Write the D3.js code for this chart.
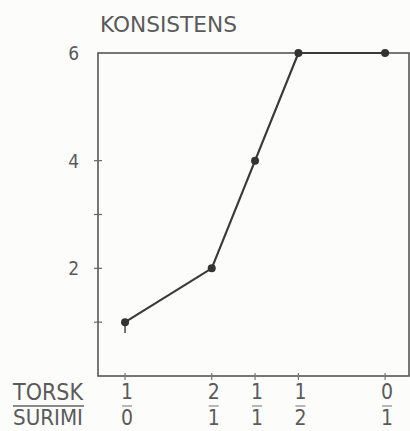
<!DOCTYPE html>
<html>
<head>
<meta charset="utf-8">
<script src="https://cdn.jsdelivr.net/npm/d3@7"></script>
<style>
  body { margin: 0; background: #fcfcfb; }
  svg text {
    font-family: "DejaVu Sans Condensed", "DejaVu Sans", sans-serif;
    font-stretch: condensed;
    fill: #5a5a5a;
  }
</style>
</head>
<body>
<div id="chart"></div>
<script>
// surimi share of the mix (0 = only torsk, 1 = only surimi)
var surimiShare = [0, 1/3, 1/2, 2/3, 1];
var torskLabels = ["1", "2", "1", "1", "0"];
var surimiLabels = ["0", "1", "1", "2", "1"];
var konsistens = [1.0, 2.0, 4.0, 6.0, 6.0];
var errLow = [0.2, 0.05, 0.05, 0, 0];
var yTicks = [1, 2, 3, 4];
var yLabels = [2, 4, 6];

var svgWidth = 410;
var svgHeight = 431;

var margin = { top: 53, right: 1, bottom: 55, left: 98 };
var width = svgWidth - margin.left - margin.right;
var height = svgHeight - margin.top - margin.bottom;

var svg = d3.select("#chart")
  .append("svg")
  .attr("width", svgWidth)
  .attr("height", svgHeight);

var chartGroup = svg.append("g")
  .attr("transform", `translate(${margin.left}, ${margin.top})`);

var xScale = d3.scaleLinear()
  .domain([-0.104, 1.092])
  .range([0, width]);

var yScale = d3.scaleLinear()
  .domain([0, 6])
  .range([height, 0]);

// frame
chartGroup.append("rect")
  .attr("x", 0)
  .attr("y", 0)
  .attr("width", width)
  .attr("height", height)
  .attr("fill", "none")
  .attr("stroke", "#555")
  .attr("stroke-width", 1.6);

// y ticks crossing the axis
chartGroup.selectAll(".ytick")
  .data(yTicks)
  .enter()
  .append("line")
  .attr("x1", -4)
  .attr("x2", 4)
  .attr("y1", d => yScale(d))
  .attr("y2", d => yScale(d))
  .attr("stroke", "#666")
  .attr("stroke-width", 1.2);

chartGroup.selectAll(".ylabel")
  .data(yLabels)
  .enter()
  .append("text")
  .attr("x", -19)
  .attr("y", d => yScale(d) + 7)
  .attr("text-anchor", "end")
  .attr("font-size", 19)
  .text(d => d);

// x ticks
chartGroup.selectAll(".xtick")
  .data(surimiShare)
  .enter()
  .append("line")
  .attr("x1", d => xScale(d))
  .attr("x2", d => xScale(d))
  .attr("y1", height - 3)
  .attr("y2", height + 4)
  .attr("stroke", "#777")
  .attr("stroke-width", 1.2);

// fraction labels
var frac = chartGroup.selectAll(".frac")
  .data(surimiShare)
  .enter()
  .append("g")
  .attr("transform", (d, i) => `translate(${xScale(d) + 2}, ${height})`);

frac.append("text")
  .attr("y", 23)
  .attr("text-anchor", "middle")
  .attr("font-size", 21)
  .text((d, i) => torskLabels[i]);

frac.append("line")
  .attr("x1", -5)
  .attr("x2", 5)
  .attr("y1", 30)
  .attr("y2", 30)
  .attr("stroke", "#888")
  .attr("stroke-width", 1.2);

frac.append("text")
  .attr("y", 49)
  .attr("text-anchor", "middle")
  .attr("font-size", 21)
  .text((d, i) => surimiLabels[i]);

// error bars
chartGroup.selectAll(".err")
  .data(surimiShare)
  .enter()
  .append("line")
  .attr("x1", d => xScale(d))
  .attr("x2", d => xScale(d))
  .attr("y1", (d, i) => yScale(konsistens[i]))
  .attr("y2", (d, i) => yScale(konsistens[i] - errLow[i]))
  .attr("stroke", "#444")
  .attr("stroke-width", 1.5);

// data line
var line = d3.line()
  .x(d => xScale(d))
  .y((d, i) => yScale(konsistens[i]));

chartGroup.append("path")
  .datum(surimiShare)
  .attr("d", line)
  .attr("fill", "none")
  .attr("stroke", "#3a3a3a")
  .attr("stroke-width", 2.2);

chartGroup.selectAll("circle")
  .data(surimiShare)
  .enter()
  .append("circle")
  .attr("cx", d => xScale(d))
  .attr("cy", (d, i) => yScale(konsistens[i]))
  .attr("r", 4)
  .attr("fill", "#333");

// titles
svg.append("text")
  .attr("x", 100)
  .attr("y", 32)
  .attr("font-size", 22)
  .attr("textLength", 137)
  .attr("lengthAdjust", "spacingAndGlyphs")
  .text("KONSISTENS");

svg.append("text")
  .attr("x", 13)
  .attr("y", 400)
  .attr("font-size", 23)
  .attr("textLength", 70)
  .attr("lengthAdjust", "spacingAndGlyphs")
  .text("TORSK");

svg.append("line")
  .attr("x1", 13)
  .attr("x2", 84)
  .attr("y1", 406)
  .attr("y2", 406)
  .attr("stroke", "#666")
  .attr("stroke-width", 1.4);

svg.append("text")
  .attr("x", 13)
  .attr("y", 425)
  .attr("font-size", 22)
  .attr("textLength", 70)
  .attr("lengthAdjust", "spacingAndGlyphs")
  .text("SURIMI");
</script>
</body>
</html>
